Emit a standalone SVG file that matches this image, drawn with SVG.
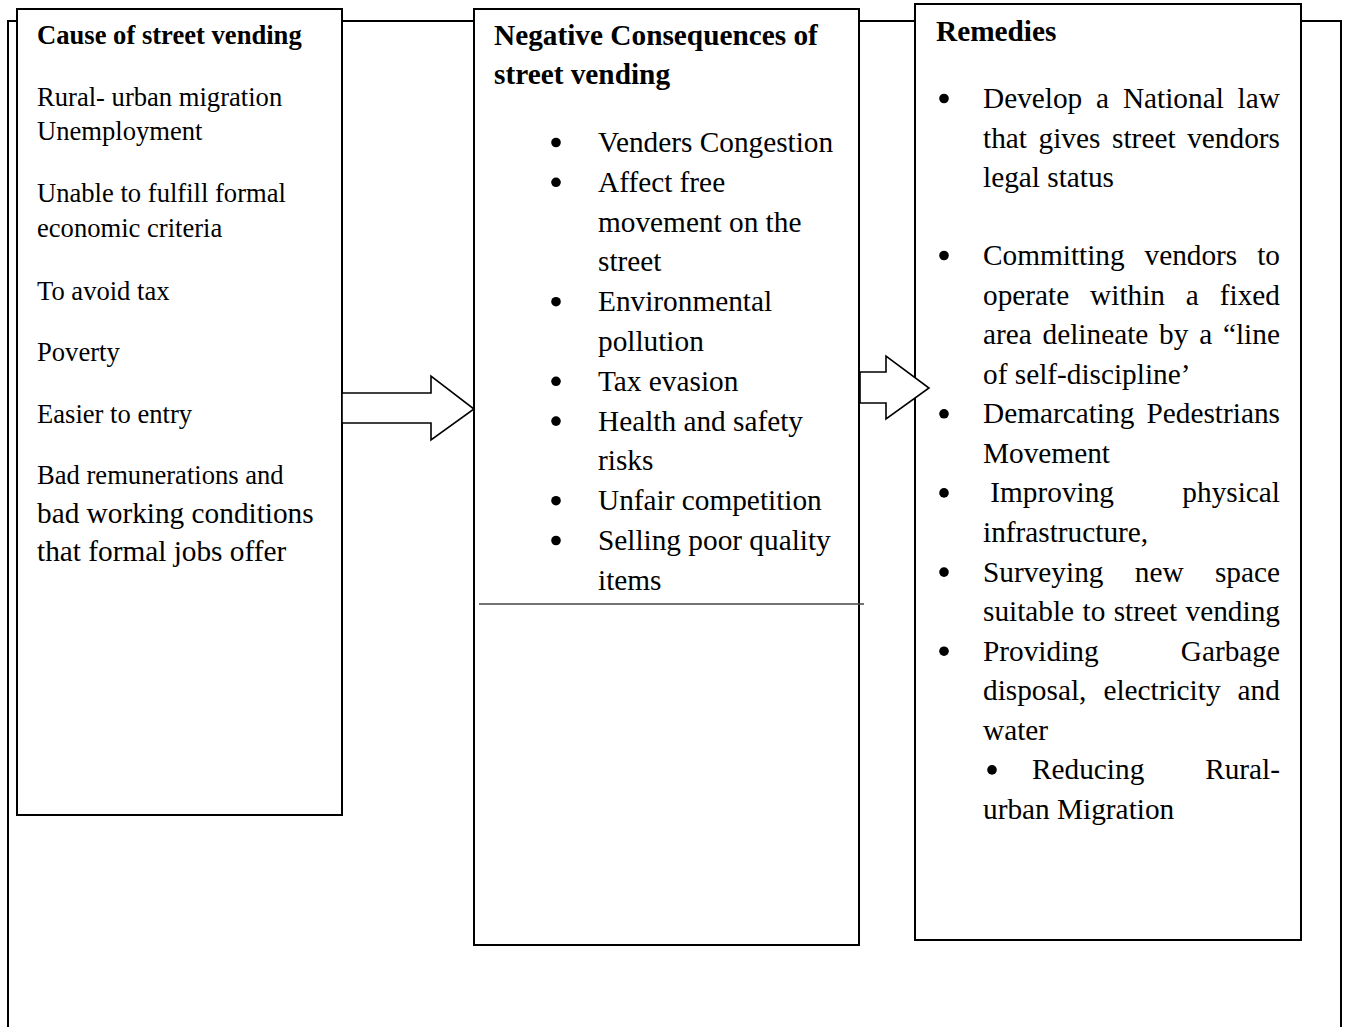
<svg xmlns="http://www.w3.org/2000/svg" width="1346" height="1027" viewBox="0 0 1346 1027">
<style>
.frame{fill:none;stroke:#000;stroke-width:2}
.box{fill:#fff;stroke:#000;stroke-width:2}
.arrow{fill:#fff;stroke:#000;stroke-width:1.6;stroke-linejoin:miter}
.sep{stroke:#444;stroke-width:1.3}
.dot{fill:#000}
text{font-family:"Liberation Serif","Times New Roman",serif;fill:#000;font-size:29.3px}
.s{font-size:26.6px}
.b{font-weight:bold}
</style>
<defs>
<circle id="bullet" class="dot" cx="0" cy="0" r="4.8"/>
</defs>
<rect width="1346" height="1027" fill="#fff"/>
<g id="frame">
<rect class="frame" x="8" y="21" width="1333" height="1100"/>
</g>
<g id="causes">
<rect class="box" x="17" y="9" width="325" height="806"/>
<text class="s b" x="37" y="44">Cause of street vending</text>
<text class="s" x="37" y="105.5">Rural- urban migration</text>
<text class="s" x="37" y="140">Unemployment</text>
<text class="s" x="37" y="201.5">Unable to fulfill formal</text>
<text class="s" x="37" y="236.5">economic criteria</text>
<text class="s" x="37" y="299.5">To avoid tax</text>
<text class="s" x="37" y="360.5">Poverty</text>
<text class="s" x="37" y="422.5">Easier to entry</text>
<text class="s" x="37" y="484">Bad remunerations and</text>
<text x="37" y="522.5">bad working conditions</text>
<text x="37" y="561">that formal jobs offer</text>
</g>
<g id="consequences">
<rect class="box" x="474" y="9" width="385" height="936"/>
<line class="sep" x1="479" y1="604" x2="864" y2="604"/>
<text class="b" x="494" y="45">Negative Consequences of</text>
<text class="b" x="494" y="84">street vending</text>
<use href="#bullet" x="556" y="142.5"/><text x="598" y="152">Venders Congestion</text>
<use href="#bullet" x="556" y="182.3"/><text x="598" y="191.8">Affect free</text>
<text x="598" y="231.6">movement on the</text>
<text x="598" y="271.4">street</text>
<use href="#bullet" x="556" y="301.7"/><text x="598" y="311.2">Environmental</text>
<text x="598" y="351">pollution</text>
<use href="#bullet" x="556" y="381.3"/><text x="598" y="390.8">Tax evasion</text>
<use href="#bullet" x="556" y="421.1"/><text x="598" y="430.6">Health and safety</text>
<text x="598" y="470.4">risks</text>
<use href="#bullet" x="556" y="500.7"/><text x="598" y="510.2">Unfair competition</text>
<use href="#bullet" x="556" y="540.5"/><text x="598" y="550">Selling poor quality</text>
<text x="598" y="589.8">items</text>
</g>
<g id="remedies">
<rect class="box" x="915" y="4" width="386" height="936"/>
<text class="b" x="936" y="41">Remedies</text>
<use href="#bullet" x="944" y="98.5"/><text x="983" y="108" word-spacing="6.5">Develop a National law</text>
<text x="983" y="147.5" word-spacing="4.33">that gives street vendors</text>
<text x="983" y="187">legal status</text>
<use href="#bullet" x="944" y="255.5"/><text x="983" y="265" word-spacing="12.56">Committing vendors to</text>
<text x="983" y="304.6" word-spacing="13.56">operate within a fixed</text>
<text x="983" y="344.1" word-spacing="3.47">area delineate by a “line</text>
<text x="983" y="383.7">of self-discipline’</text>
<use href="#bullet" x="944" y="413.8"/><text x="983" y="423.3" word-spacing="4.88">Demarcating Pedestrians</text>
<text x="983" y="462.9">Movement</text>
<use href="#bullet" x="944" y="492.9"/><text x="990.3" y="502.4">Improving</text><text x="1280" y="502.4" text-anchor="end">physical</text>
<text x="983" y="542">infrastructure,</text>
<use href="#bullet" x="944" y="572.1"/><text x="983" y="581.6" word-spacing="24">Surveying new space</text>
<text x="983" y="621.1" word-spacing="1.07">suitable to street vending</text>
<use href="#bullet" x="944" y="651.2"/><text x="983" y="660.7">Providing</text><text x="1280" y="660.7" text-anchor="end">Garbage</text>
<text x="983" y="700.3" word-spacing="9.75">disposal, electricity and</text>
<text x="983" y="739.8">water</text>
<use href="#bullet" x="992" y="769.9"/><text x="1032" y="779.4">Reducing</text><text x="1280" y="779.4" text-anchor="end">Rural-</text>
<text x="983" y="819">urban Migration</text>
</g>
<g id="connectors">
<polygon class="arrow" points="342,393 431,393 431,376 474,409 431,440 431,423 342,423"/>
<polygon class="arrow" points="860,372 886,372 886,356 929,388 886,419 886,403 860,403"/>
</g>
</svg>
